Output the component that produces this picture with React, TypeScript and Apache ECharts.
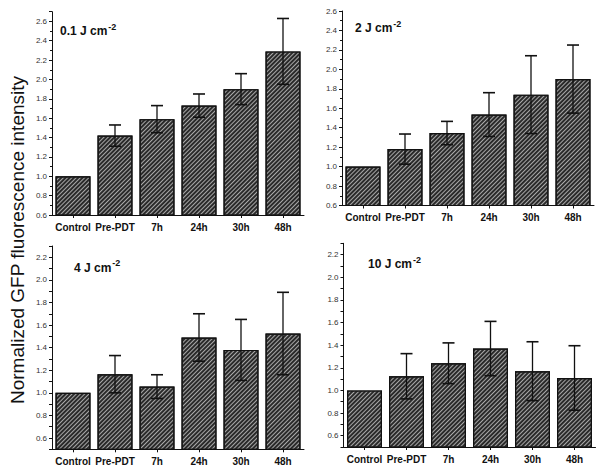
import React, { useEffect, useRef } from 'react';
import * as echarts from 'echarts';

const categories = ['Control', 'Pre-PDT', '7h', '24h', '30h', '48h'];

const mean01 = [1.0, 1.42, 1.59, 1.73, 1.9, 2.29];
const err01 = [0, 0.11, 0.14, 0.12, 0.16, 0.34];
const mean2 = [1.0, 1.18, 1.345, 1.535, 1.74, 1.9];
const err2 = [0, 0.155, 0.12, 0.225, 0.4, 0.35];
const mean4 = [1.0, 1.165, 1.055, 1.49, 1.38, 1.525];
const err4 = [0, 0.165, 0.105, 0.21, 0.27, 0.365];
const mean10 = [1.0, 1.125, 1.24, 1.37, 1.17, 1.11];
const err10 = [0, 0.2, 0.18, 0.24, 0.26, 0.285];

const panelTitles = ['0.1 J cm', '2 J cm', '4 J cm', '10 J cm'];
const superscript = '-2';
const yTitle = 'Normalized GFP fluorescence intensity';

const FONT = '"Liberation Sans", Arial, sans-serif';

const panels = [
  { mean: mean01, err: err01, min: 0.6, max: 2.7, step: 0.2, grid: { left: 52, top: 11.7, width: 252, height: 203.3 }, tx: 60, ty: 31 },
  { mean: mean2, err: err2, min: 0.6, max: 2.6, step: 0.2, grid: { left: 342, top: 11, width: 252, height: 194.5 }, tx: 355, ty: 28 },
  { mean: mean4, err: err4, min: 0.5, max: 2.3, step: 0.1, grid: { left: 52, top: 246, width: 252, height: 203.3 }, tx: 74, ty: 267.5 },
  { mean: mean10, err: err10, min: 0.5, max: 2.3, step: 0.1, grid: { left: 343.5, top: 243.3, width: 252, height: 203.7 }, tx: 368, ty: 264 },
];

export default function App() {
  const ref = useRef<HTMLDivElement>(null);
  useEffect(() => {
    if (!ref.current) return;
    const chart = echarts.init(ref.current, undefined, { renderer: 'svg' });

    const grids: any[] = [];
    const xAxes: any[] = [];
    const yAxes: any[] = [];
    const series: any[] = [];
    const graphics: any[] = [];

    panels.forEach((p, i) => {
      grids.push({ ...p.grid, containLabel: false });
      xAxes.push({
        type: 'category',
        gridIndex: i,
        data: categories,
        axisLine: { show: true, lineStyle: { color: '#111', width: 1 } },
        axisTick: { show: true, alignWithLabel: true, length: 3, lineStyle: { color: '#111' } },
        axisLabel: { fontFamily: FONT, fontWeight: 'bold', fontSize: 10, color: '#111', margin: 7, interval: 0 },
        splitLine: { show: false },
      });
      const isFine = p.step === 0.1;
      yAxes.push({
        type: 'value',
        gridIndex: i,
        min: p.min,
        max: p.max,
        interval: p.step,
        axisLine: { show: true, lineStyle: { color: '#111', width: 1 } },
        axisTick: { show: true, length: 3, lineStyle: { color: '#111' } },
        minorTick: { show: !isFine, splitNumber: 2, length: 2, lineStyle: { color: '#111' } },
        splitLine: { show: false },
        axisLabel: {
          fontFamily: FONT,
          fontSize: 8,
          color: '#333',
          margin: 5,
          showMaxLabel: i === 0 ? false : true,
          formatter: (v: number) => {
            const t = Math.round(v * 10);
            if (isFine && t % 2 !== 0) return '';
            return v.toFixed(1);
          },
        },
      });
      series.push({
        type: 'bar',
        xAxisIndex: i,
        yAxisIndex: i,
        data: p.mean,
        barWidth: 35,
        itemStyle: {
          color: '#a8a8a8',
          borderColor: '#111',
          borderWidth: 1.2,
          decal: {
            symbol: 'rect',
            symbolSize: 1,
            color: '#2a2a2a',
            dashArrayX: [1, 0],
            dashArrayY: [1.1, 1.0],
            rotation: -Math.PI / 4,
          },
        },
        z: 2,
      });
      const errData = p.mean
        .map((m, k) => [k, m - p.err[k], m + p.err[k], p.err[k]])
        .filter((d) => d[3] > 0);
      series.push({
        type: 'custom',
        xAxisIndex: i,
        yAxisIndex: i,
        data: errData,
        encode: { x: 0, y: [1, 2] },
        z: 5,
        renderItem: (params: any, api: any) => {
          const x = api.value(0);
          const lo = api.coord([x, api.value(1)]);
          const hi = api.coord([x, api.value(2)]);
          const w = 6;
          const st = { stroke: '#111', lineWidth: 1.3 };
          return {
            type: 'group',
            children: [
              { type: 'line', shape: { x1: hi[0], y1: hi[1], x2: lo[0], y2: lo[1] }, style: st },
              { type: 'line', shape: { x1: hi[0] - w, y1: hi[1], x2: hi[0] + w, y2: hi[1] }, style: { stroke: '#111', lineWidth: 1.6 } },
              { type: 'line', shape: { x1: lo[0] - w, y1: lo[1], x2: lo[0] + w, y2: lo[1] }, style: { stroke: '#111', lineWidth: 1.6 } },
            ],
          };
        },
      });
      graphics.push({
        type: 'text',
        x: p.tx,
        y: p.ty,
        style: {
          text: `{a|${panelTitles[i]}}{b|${superscript}}`,
          fill: '#111',
          textAlign: 'left',
          textVerticalAlign: 'middle',
          align: 'left',
          verticalAlign: 'middle',
          rich: {
            a: { fontFamily: FONT, fontWeight: 'bold', fontSize: 12, lineHeight: 18, fill: '#111', verticalAlign: 'middle' },
            b: { fontFamily: FONT, fontWeight: 'bold', fontSize: 9, lineHeight: 6, fill: '#111', verticalAlign: 'top', padding: [0, 0, 0, 1] },
          },
        },
      });
    });

    graphics.push({
      type: 'text',
      x: 17,
      y: 240,
      rotation: Math.PI / 2,
      style: {
        text: yTitle,
        font: `19px ${FONT}`,
        fill: '#111',
        textAlign: 'center',
        textVerticalAlign: 'middle',
        align: 'center',
        verticalAlign: 'middle',
      },
    });

    chart.setOption({
      animation: false,
      backgroundColor: '#fff',
      grid: grids,
      xAxis: xAxes,
      yAxis: yAxes,
      series,
      graphic: graphics,
    });
    return () => chart.dispose();
  }, []);

  return <div ref={ref} style={{ position: 'absolute', left: 0, top: 0, width: 600, height: 472 }} />;
}
